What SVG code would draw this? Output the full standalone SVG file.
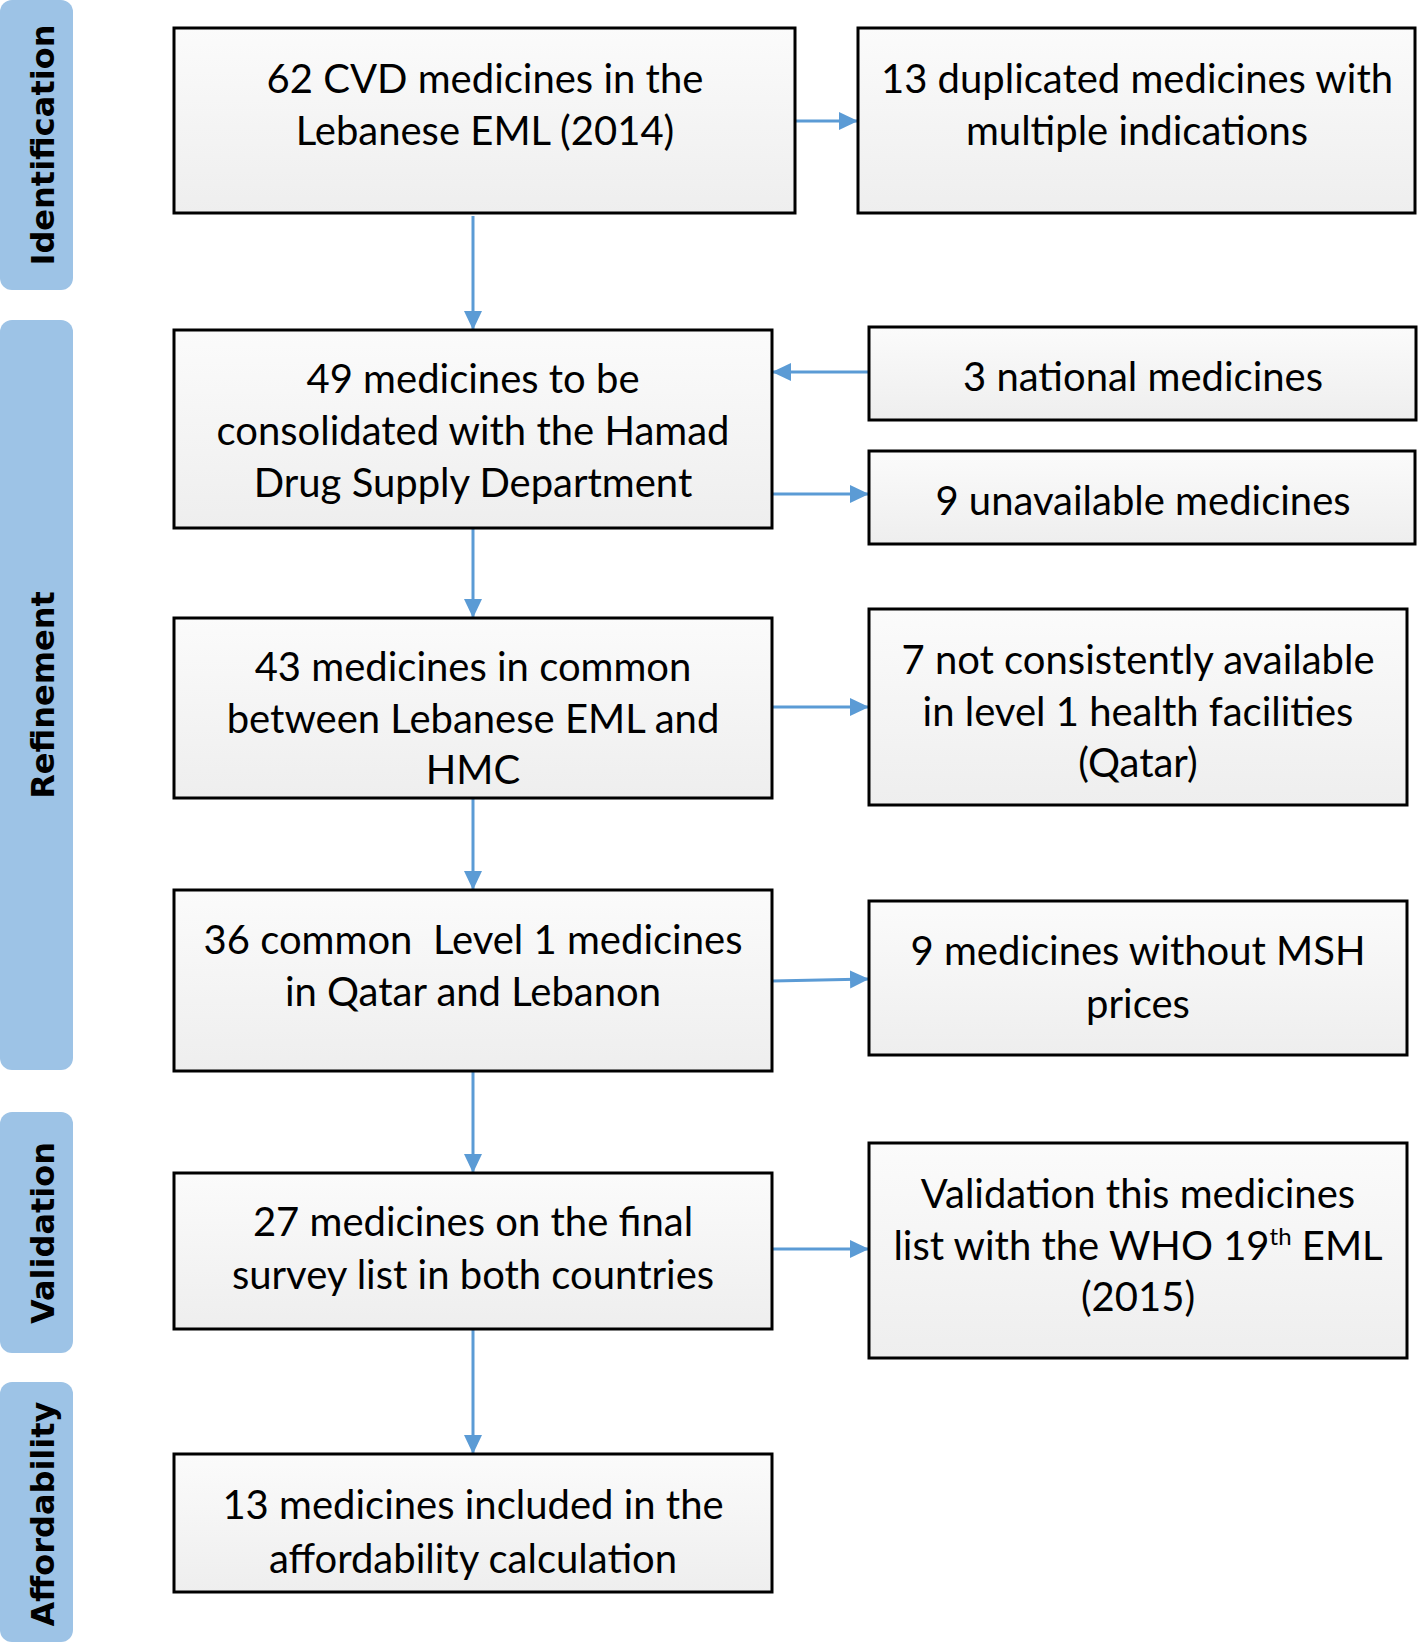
<svg xmlns="http://www.w3.org/2000/svg" width="1418" height="1644" viewBox="0 0 1418 1644">
<style>
.bar{fill:#9DC3E6}
.lab{font-family:"DejaVu Sans",sans-serif;font-weight:bold;font-size:32px;fill:#000;text-anchor:middle}
.box{fill:url(#g);stroke:#000;stroke-width:3}
.t{font-family:Lato,"Liberation Sans",sans-serif;font-size:40px;fill:#000;text-anchor:middle}
.c{stroke:#5B9BD5;stroke-width:3;fill:none;marker-end:url(#ah)}
</style>
<defs>
<linearGradient id="g" x1="0" y1="0" x2="0" y2="1">
<stop offset="0" stop-color="#FBFBFB"/>
<stop offset="1" stop-color="#EEEEEE"/>
</linearGradient>
<marker id="ah" markerUnits="userSpaceOnUse" markerWidth="20" markerHeight="20" refX="19" refY="10" orient="auto">
<path d="M0,1 L19,10 L0,19 Z" fill="#5B9BD5"/>
</marker>
</defs>
<rect width="1418" height="1644" fill="#fff"/>

<g id="phase-identification"><rect class="bar" x="0" y="0" width="73" height="290" rx="12"/><text class="lab" transform="translate(54,145) rotate(-90)">Identification</text></g>
<g id="phase-refinement"><rect class="bar" x="0" y="320" width="73" height="750" rx="12"/><text class="lab" transform="translate(54,695) rotate(-90)">Refinement</text></g>
<g id="phase-validation"><rect class="bar" x="0" y="1112" width="73" height="241" rx="12"/><text class="lab" transform="translate(54,1233) rotate(-90)">Validation</text></g>
<g id="phase-affordability"><rect class="bar" x="0" y="1382" width="73" height="260" rx="12"/><text class="lab" transform="translate(54,1514) rotate(-90)">Affordability</text></g>

<g id="connectors">
<line class="c" x1="795" y1="121" x2="858" y2="121"/>
<line class="c" x1="473" y1="216" x2="473" y2="330"/>
<line class="c" x1="869" y1="372" x2="772" y2="372"/>
<line class="c" x1="772" y1="494" x2="869" y2="494"/>
<line class="c" x1="473" y1="528" x2="473" y2="618"/>
<line class="c" x1="772" y1="707" x2="869" y2="707"/>
<line class="c" x1="473" y1="798" x2="473" y2="890"/>
<line class="c" x1="772" y1="981" x2="869" y2="979"/>
<line class="c" x1="473" y1="1071" x2="473" y2="1173"/>
<line class="c" x1="772" y1="1249" x2="869" y2="1249"/>
<line class="c" x1="473" y1="1329" x2="473" y2="1454"/>
</g>

<g id="n1"><rect class="box" x="174" y="28" width="621" height="185"/><text class="t" x="485" y="93">62 CVD medicines in the</text><text class="t" x="485" y="145">Lebanese EML (2014)</text></g>
<g id="n2"><rect class="box" x="858" y="28" width="557" height="185"/><text class="t" x="1137" y="93">13 duplicated medicines with</text><text class="t" x="1137" y="145">multiple indications</text></g>
<g id="n3"><rect class="box" x="174" y="330" width="598" height="198"/><text class="t" x="473" y="393">49 medicines to be</text><text class="t" x="473" y="445">consolidated with the Hamad</text><text class="t" x="473" y="497">Drug Supply Department</text></g>
<g id="n4"><rect class="box" x="869" y="327" width="547" height="93"/><text class="t" x="1143" y="391">3 national medicines</text></g>
<g id="n5"><rect class="box" x="869" y="451" width="546" height="93"/><text class="t" x="1143" y="515">9 unavailable medicines</text></g>
<g id="n6"><rect class="box" x="174" y="618" width="598" height="180"/><text class="t" x="473" y="681">43 medicines in common</text><text class="t" x="473" y="733">between Lebanese EML and</text><text class="t" x="473" y="784">HMC</text></g>
<g id="n7"><rect class="box" x="869" y="609" width="538" height="196"/><text class="t" x="1138" y="674">7 not consistently available</text><text class="t" x="1138" y="726">in level 1 health facilities</text><text class="t" x="1138" y="777">(Qatar)</text></g>
<g id="n8"><rect class="box" x="174" y="890" width="598" height="181"/><text class="t" x="473" y="954" xml:space="preserve">36 common  Level 1 medicines</text><text class="t" x="473" y="1006">in Qatar and Lebanon</text></g>
<g id="n9"><rect class="box" x="869" y="901" width="538" height="154"/><text class="t" x="1138" y="965">9 medicines without MSH</text><text class="t" x="1138" y="1018">prices</text></g>
<g id="n10"><rect class="box" x="174" y="1173" width="598" height="156"/><text class="t" x="473" y="1236">27 medicines on the final</text><text class="t" x="473" y="1289">survey list in both countries</text></g>
<g id="n11"><rect class="box" x="869" y="1143" width="538" height="215"/><text class="t" x="1138" y="1208">Validation this medicines</text><text class="t" x="1138" y="1260">list with the WHO 19<tspan font-size="24" dy="-15">th</tspan><tspan dy="15"> EML</tspan></text><text class="t" x="1138" y="1311">(2015)</text></g>
<g id="n12"><rect class="box" x="174" y="1454" width="598" height="138"/><text class="t" x="473" y="1519">13 medicines included in the</text><text class="t" x="473" y="1573">affordability calculation</text></g>
</svg>
